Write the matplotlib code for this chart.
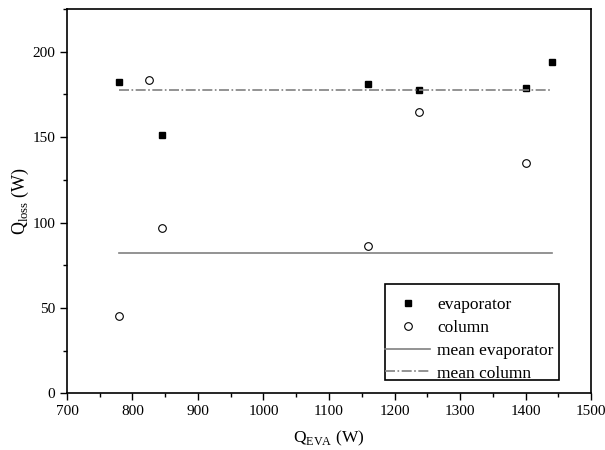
import matplotlib
matplotlib.use('Agg')
import matplotlib.pyplot as plt
from matplotlib.ticker import MultipleLocator
from matplotlib.patches import Rectangle

plt.rcParams['font.family'] = ['Liberation Serif', 'DejaVu Serif']
plt.rcParams['mathtext.fontset'] = 'custom'
plt.rcParams['mathtext.rm'] = 'Liberation Serif'

# data
evap_q = [780, 845, 1160, 1238, 1400, 1440]
evap_loss = [182, 151.5, 181, 177.5, 178.5, 194]
col_q = [780, 825, 845, 1160, 1238, 1400]
col_loss = [45, 183.5, 96.5, 86.5, 164.5, 135]
mean_evap = 82
mean_col = 177.5
line_x = [780, 1440]

fig = plt.figure(figsize=(6.05, 4.5), dpi=100)
ax = fig.add_axes([0.1107, 0.126, 0.8662, 0.854])

ax.plot(evap_q, evap_loss, 's', color='black', markersize=5, label='evaporator')
ax.plot(col_q, col_loss, 'o', mfc='white', mec='black', mew=0.8, markersize=5.5, label='column')
ax.plot(line_x, [mean_evap, mean_evap], '-', color='#808080', lw=1.2, label='mean evaporator')
ax.plot(line_x, [mean_col, mean_col], color='#808080', lw=1.2, dashes=[6, 1.5, 1, 1.5], label='mean column')

ax.set_xlim(700, 1500)
ax.set_ylim(0, 225)
ax.xaxis.set_major_locator(MultipleLocator(100))
ax.xaxis.set_minor_locator(MultipleLocator(50))
ax.yaxis.set_major_locator(MultipleLocator(50))
ax.yaxis.set_minor_locator(MultipleLocator(25))
ax.tick_params(which='both', direction='out', top=False, right=False, labelsize=11, width=1)
ax.tick_params(which='major', length=5)
ax.tick_params(which='minor', length=3)
for s in ax.spines.values():
    s.set_linewidth(1.2)

ax.set_xlabel(r'Q$_{\mathrm{EVA}}$ (W)', fontsize=12.5, labelpad=8)
ax.set_ylabel(r'Q$_{\mathrm{loss}}$ (W)', fontsize=13, labelpad=1)

# legend box drawn separately so the handles can touch its left edge
ax.add_patch(Rectangle((0.607, 0.0346), 0.332, 0.2498, transform=ax.transAxes,
                       fill=True, facecolor='white', edgecolor='black', lw=1.2, zorder=4))
leg = ax.legend(loc='center left', bbox_to_anchor=(0.607, 0.1404), fontsize=12.5,
                frameon=False, borderpad=0, borderaxespad=0,
                handlelength=2.6, handletextpad=0.4, labelspacing=0.38)
leg.set_zorder(5)

fig.savefig('out.png', dpi=100)
